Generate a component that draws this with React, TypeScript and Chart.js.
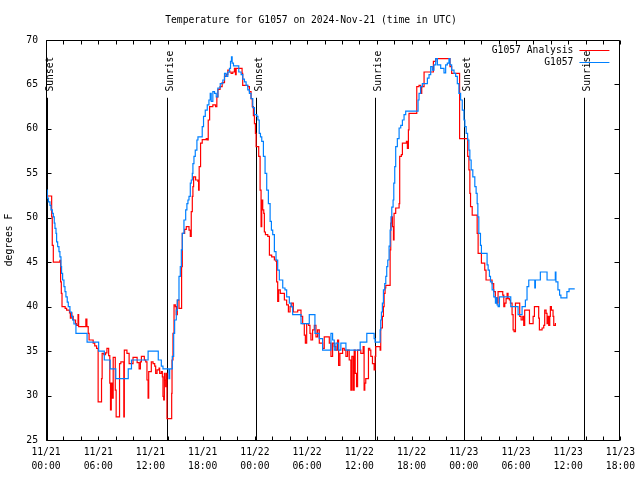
import React, { useEffect, useRef } from 'react';
import { Chart, registerables } from 'chart.js';

Chart.register(...registerables);

const FONT_FAMILY = '"DejaVu Sans Mono", "Liberation Mono", monospace';
const FONT_SIZE = 9.7;

const titleText = 'Temperature for G1057 on 2024-Nov-21 (time in UTC)';
const yAxisTitle = 'degrees F';
const seriesNames = ['G1057 Analysis', 'G1057'];
const seriesColors = ['#ff0000', '#0080ff'];

const xTickLabels = [
  ['11/21', '00:00'], ['11/21', '06:00'], ['11/21', '12:00'], ['11/21', '18:00'],
  ['11/22', '00:00'], ['11/22', '06:00'], ['11/22', '12:00'], ['11/22', '18:00'],
  ['11/23', '00:00'], ['11/23', '06:00'], ['11/23', '12:00'], ['11/23', '18:00'],
];
const xMin = 0;
const xMax = 66;
const yMin = 25;
const yMax = 70;

const sunEventHours = [0.12, 13.85, 24.1, 37.83, 48.08, 61.81];
const sunEventLabels = ['Sunset', 'Sunrise', 'Sunset', 'Sunrise', 'Sunset', 'Sunrise'];

// hours since 11/21 00:00 UTC, degrees F
const analysisPoints: [number, number][] = [
  [0.15, 52.45], [0.65, 50.1], [0.72, 46.9], [0.84, 45.0], [1.6, 45.2], [1.68, 42.8], [1.76, 41.5],
  [1.84, 40.0], [2.2, 39.8], [2.37, 39.6], [2.7, 39.3], [2.8, 38.7], [2.9, 39.3], [2.97, 38.9],
  [3.13, 38.5], [3.4, 38.1], [3.5, 37.9], [3.68, 39.1], [3.75, 37.75], [4.58, 38.6], [4.7, 37.75],
  [4.85, 37.0], [4.95, 36.25], [5.42, 35.9], [5.6, 35.6], [5.81, 35.3], [5.99, 29.3], [6.38, 31.9],
  [6.45, 34.75], [6.65, 34.6], [6.84, 34.8], [7.0, 35.3], [7.2, 34.5], [7.33, 31.4], [7.41, 28.4],
  [7.5, 31.4], [7.6, 29.7], [7.72, 34.3], [7.96, 30.6], [8.06, 27.6], [8.45, 33.6], [8.6, 33.8],
  [8.94, 27.6], [9.0, 35.1], [9.3, 34.75], [9.55, 33.6], [10.0, 34.3], [10.47, 33.7], [10.7, 33.0],
  [10.85, 33.8], [10.96, 34.4], [11.3, 34.0], [11.46, 33.8], [11.6, 31.75], [11.73, 29.7], [11.8, 32.7],
  [12.1, 33.8], [12.3, 33.6], [12.49, 33.3], [12.6, 32.5], [12.76, 32.9], [12.99, 33.1], [13.06, 32.5],
  [13.25, 32.7], [13.37, 32.1], [13.44, 29.9], [13.52, 29.5], [13.6, 32.5], [13.67, 31.75], [13.75, 31.0],
  [13.83, 32.5], [13.9, 27.4], [14.44, 30.25], [14.48, 34.0], [14.59, 37.0], [14.71, 40.2], [14.86, 40.0],
  [14.97, 39.1], [15.09, 40.75], [15.28, 39.8], [15.58, 44.5], [15.66, 48.25], [15.93, 48.7], [16.12, 49.0],
  [16.43, 48.6], [16.58, 47.9], [16.69, 50.7], [16.81, 52.4], [16.88, 53.5], [16.96, 54.6], [17.19, 54.25],
  [17.46, 54.1], [17.53, 53.1], [17.6, 55.75], [17.76, 58.4], [17.95, 58.8], [18.41, 58.9], [18.52, 58.75],
  [18.64, 61.0], [18.8, 62.5], [19.17, 62.7], [19.48, 62.5], [19.63, 63.6], [19.75, 64.45], [20.0, 64.75],
  [20.24, 65.2], [20.51, 65.9], [20.7, 66.1], [20.89, 66.6], [21.1, 66.4], [21.27, 66.25], [21.46, 66.4],
  [21.65, 66.8], [21.77, 66.1], [21.85, 66.8], [22.53, 66.25], [22.6, 64.9], [23.18, 64.75], [23.37, 64.2],
  [23.56, 63.4], [23.7, 62.5], [23.83, 61.5], [23.95, 60.6], [24.06, 59.5], [24.14, 58.0], [24.44, 56.9],
  [24.6, 53.1], [24.71, 49.0], [24.79, 52.0], [24.9, 50.9], [25.02, 50.5], [25.09, 48.4], [25.21, 48.1],
  [25.48, 47.9], [25.67, 45.8], [25.93, 45.6], [26.24, 45.25], [26.43, 45.1], [26.5, 42.8], [26.62, 40.6],
  [26.73, 41.9], [26.92, 41.5], [27.39, 40.75], [27.65, 40.2], [27.85, 39.4], [28.04, 40.0], [28.23, 40.4],
  [28.42, 39.4], [28.92, 39.6], [29.3, 38.9], [29.49, 38.1], [29.68, 36.8], [29.8, 35.9], [29.95, 38.1],
  [30.18, 37.9], [30.33, 37.0], [30.44, 36.25], [30.63, 37.4], [30.83, 37.9], [31.02, 36.6], [31.21, 37.4],
  [31.4, 35.9], [31.78, 35.3], [31.97, 36.6], [32.55, 35.9], [32.74, 34.4], [32.93, 35.9], [33.12, 35.5],
  [33.31, 35.1], [33.5, 36.25], [33.62, 33.4], [33.77, 34.75], [34.08, 35.3], [34.27, 35.1], [34.46, 34.4],
  [34.65, 35.1], [34.84, 34.0], [35.03, 30.6], [35.14, 34.4], [35.3, 30.6], [35.41, 35.1], [35.53, 32.5],
  [35.68, 31.0], [35.8, 35.1], [36.17, 34.75], [36.44, 35.5], [36.55, 30.6], [36.63, 31.4], [36.74, 31.9],
  [37.05, 35.3], [37.2, 35.1], [37.32, 34.4], [37.51, 33.6], [37.7, 32.9], [37.81, 34.4], [37.89, 35.5],
  [38.39, 35.1], [38.46, 37.6], [38.65, 38.9], [38.77, 40.0], [38.85, 41.5], [38.96, 42.1], [39.04, 42.4],
  [39.54, 46.4], [39.61, 49.4], [39.69, 50.1], [39.8, 49.0], [39.92, 47.5], [39.99, 50.5], [40.18, 51.1],
  [40.57, 51.6], [40.64, 56.9], [40.83, 57.1], [40.95, 58.4], [41.41, 58.6], [41.52, 57.8], [41.64, 59.9],
  [41.71, 61.75], [42.6, 64.75], [42.86, 64.9], [43.05, 64.0], [43.17, 64.75], [43.44, 66.4], [44.51, 67.6],
  [44.78, 67.9], [46.42, 67.0], [46.61, 66.25], [47.52, 58.9], [48.45, 56.9], [48.59, 55.4], [48.7, 52.75],
  [48.78, 51.25], [48.97, 50.3], [49.54, 48.25], [49.65, 46.0], [50.03, 44.9], [50.41, 44.1], [50.56, 43.0],
  [51.25, 42.6], [51.44, 41.7], [51.63, 41.0], [51.82, 40.4], [51.94, 41.7], [52.48, 41.3], [52.6, 40.0],
  [52.71, 40.4], [52.86, 40.9], [52.98, 41.5], [53.09, 40.9], [53.24, 40.75], [53.36, 40.4], [53.55, 39.1],
  [53.67, 37.4], [53.78, 37.2], [53.94, 40.4], [54.43, 38.9], [54.59, 38.5], [54.78, 38.9], [54.89, 37.9],
  [55.0, 39.6], [55.55, 38.1], [55.97, 38.9], [56.12, 40.0], [56.61, 38.7], [56.69, 37.4], [57.0, 37.6],
  [57.19, 37.9], [57.3, 39.6], [57.46, 39.25], [57.57, 38.1], [57.65, 38.9], [57.76, 37.9], [57.88, 38.9],
  [57.95, 40.0], [58.07, 39.6], [58.26, 38.9], [58.34, 37.9], [58.53, 38.1], [58.6, 38.1],
];

const stationPoints: [number, number][] = [
  [0.08, 53.1], [0.15, 52.2], [0.27, 51.8], [0.46, 51.4], [0.57, 50.9], [0.73, 50.5], [0.84, 50.1],
  [0.95, 49.4], [1.03, 48.8], [1.15, 48.25], [1.22, 47.3], [1.34, 46.75], [1.49, 46.2], [1.6, 45.6],
  [1.72, 44.5], [1.79, 43.75], [1.91, 43.0], [2.06, 42.25], [2.18, 41.7], [2.29, 41.1], [2.44, 40.5],
  [2.56, 40.0], [2.75, 39.4], [2.94, 38.9], [3.06, 38.5], [3.21, 38.05], [3.44, 37.0], [4.72, 36.0],
  [6.05, 35.0], [6.7, 34.0], [7.37, 33.0], [8.02, 31.9], [9.45, 33.0], [9.82, 34.0], [11.73, 35.0],
  [12.9, 34.0], [13.25, 33.3], [13.44, 33.0], [14.13, 31.9], [14.21, 33.0], [14.51, 34.4], [14.67, 37.0],
  [14.78, 38.5], [14.97, 39.6], [15.09, 40.75], [15.28, 43.4], [15.43, 44.5], [15.55, 46.4], [15.66, 48.25],
  [15.85, 49.75], [16.05, 50.9], [16.19, 51.6], [16.31, 52.0], [16.43, 52.4], [16.58, 53.9], [16.69, 54.25],
  [16.81, 55.0], [16.88, 56.1], [17.0, 56.9], [17.15, 57.6], [17.34, 58.75], [17.46, 59.1], [17.95, 60.25],
  [18.1, 61.4], [18.3, 62.1], [18.53, 62.7], [18.72, 63.25], [18.87, 64.0], [18.98, 63.1], [19.17, 64.2],
  [19.36, 64.0], [19.56, 63.6], [19.75, 64.6], [20.02, 65.1], [20.32, 65.5], [20.51, 66.25], [20.7, 65.9],
  [20.89, 66.4], [21.08, 66.8], [21.2, 67.6], [21.31, 68.1], [21.39, 67.4], [21.54, 67.1], [22.15, 66.4],
  [22.42, 66.1], [22.61, 65.6], [22.8, 65.3], [22.99, 64.9], [23.18, 64.4], [23.37, 64.0], [23.56, 63.4],
  [23.76, 62.4], [23.95, 61.6], [24.22, 61.4], [24.35, 61.0], [24.5, 59.5], [24.64, 59.1], [24.79, 58.6],
  [24.98, 56.9], [25.17, 55.0], [25.36, 53.1], [25.55, 51.6], [25.75, 49.6], [25.9, 48.6], [26.05, 48.1],
  [26.24, 46.2], [26.43, 45.25], [26.62, 44.1], [26.81, 43.0], [27.2, 42.1], [27.46, 41.9], [27.65, 41.1],
  [27.96, 40.4], [28.15, 40.0], [28.34, 39.1], [29.3, 38.1], [30.25, 39.1], [30.9, 37.0], [31.4, 36.4],
  [31.78, 35.1], [32.74, 37.0], [32.93, 36.25], [33.12, 35.1], [33.31, 35.9], [33.62, 35.1], [33.88, 35.9],
  [34.46, 35.1], [36.1, 36.0], [36.86, 37.0], [37.7, 36.4], [37.81, 36.0], [38.39, 37.4], [38.46, 38.5],
  [38.54, 39.4], [38.65, 40.4], [38.77, 41.9], [38.92, 42.6], [39.04, 43.4], [39.15, 44.5], [39.27, 45.25],
  [39.42, 46.8], [39.54, 48.6], [39.65, 50.1], [39.73, 51.2], [39.88, 52.0], [39.96, 53.9], [40.07, 55.75],
  [40.18, 58.0], [40.37, 58.9], [40.57, 60.1], [40.76, 60.4], [40.95, 61.0], [41.14, 61.6], [41.33, 62.0],
  [42.75, 63.25], [42.86, 64.0], [43.05, 64.75], [43.24, 65.1], [43.82, 65.7], [44.01, 66.1], [44.2, 67.0],
  [44.39, 66.6], [44.58, 67.2], [44.78, 67.9], [44.97, 67.2], [45.35, 66.8], [45.73, 66.3], [45.92, 67.2],
  [46.11, 67.4], [46.3, 67.9], [46.42, 67.2], [46.61, 66.6], [46.88, 66.25], [47.07, 65.9], [47.26, 65.1],
  [47.44, 64.0], [47.64, 63.25], [47.83, 62.1], [48.02, 61.0], [48.13, 60.25], [48.28, 59.5], [48.44, 58.75],
  [48.59, 57.6], [48.7, 56.5], [48.85, 55.4], [49.04, 54.6], [49.27, 53.5], [49.42, 52.75], [49.54, 51.6],
  [49.62, 50.1], [49.73, 48.25], [49.92, 46.9], [50.03, 46.0], [50.68, 44.7], [50.8, 44.1], [50.95, 43.4],
  [51.07, 42.8], [51.26, 41.9], [51.45, 41.1], [51.64, 40.4], [51.76, 41.0], [51.83, 40.2], [51.95, 40.0],
  [52.1, 41.1], [53.4, 40.0], [54.24, 39.1], [54.7, 40.0], [55.08, 40.75], [55.27, 42.25], [55.47, 43.0],
  [56.16, 42.1], [56.23, 43.0], [56.8, 43.9], [57.57, 43.0], [58.52, 43.9], [58.59, 42.8], [58.82, 41.9],
  [59.01, 41.3], [59.16, 41.0], [59.85, 41.7], [60.1, 42.0], [60.75, 42.0],
];

const font = (size = FONT_SIZE) => `${size}px ${FONT_FAMILY}`;

const overlayPlugin = {
  id: 'gnuOverlay',
  beforeDatasetsDraw(chart: any) {
    const { ctx, chartArea, scales } = chart;
    const xs = scales.x;
    const ys = scales.y;
    ctx.save();
    ctx.strokeStyle = '#000';
    ctx.fillStyle = '#000';
    ctx.lineWidth = 1;
    ctx.font = font();
    const lineTop = ys.getPixelForValue(63.5);
    const labelBase = ys.getPixelForValue(64.2);
    sunEventHours.forEach((h, i) => {
      const px = Math.round(xs.getPixelForValue(h)) + 0.5;
      ctx.beginPath();
      ctx.moveTo(px, chartArea.bottom);
      ctx.lineTo(px, lineTop);
      ctx.stroke();
      ctx.save();
      ctx.translate(px + 2.5, labelBase);
      ctx.rotate(-Math.PI / 2);
      ctx.textAlign = 'left';
      ctx.textBaseline = 'middle';
      ctx.fillText(sunEventLabels[i], 0, 0);
      ctx.restore();
    });
    ctx.restore();
  },
  afterDatasetsDraw(chart: any) {
    const { ctx, chartArea, scales } = chart;
    const xs = scales.x;
    const ys = scales.y;
    const L = Math.round(chartArea.left) + 0.5;
    const R = Math.round(chartArea.right) - 0.5;
    const T = Math.round(chartArea.top) + 0.5;
    const B = Math.round(chartArea.bottom) + 0.5;
    ctx.save();
    ctx.strokeStyle = '#000';
    ctx.lineWidth = 1;
    ctx.beginPath();
    ctx.rect(L, T, R - L, B - T);
    ctx.stroke();
    // x ticks every 2 hours, inward, bottom and top
    ctx.beginPath();
    for (let v = xMin; v <= xMax; v += 2) {
      const px = Math.round(xs.getPixelForValue(v)) + 0.5;
      ctx.moveTo(px, B);
      ctx.lineTo(px, B - 4);
      ctx.moveTo(px, T);
      ctx.lineTo(px, T + 4);
    }
    for (let v = yMin; v <= yMax; v += 5) {
      const py = Math.round(ys.getPixelForValue(v)) + 0.5;
      ctx.moveTo(L, py);
      ctx.lineTo(L + 5, py);
      ctx.moveTo(R, py);
      ctx.lineTo(R - 5, py);
    }
    ctx.stroke();
    // legend
    ctx.font = font();
    ctx.fillStyle = '#000';
    ctx.textAlign = 'right';
    ctx.textBaseline = 'middle';
    seriesNames.forEach((name, i) => {
      const y = Math.round(chartArea.top + 10 + i * 12) + 0.5;
      ctx.fillText(name, chartArea.right - 47, y);
      ctx.strokeStyle = seriesColors[i];
      ctx.lineWidth = 1;
      ctx.beginPath();
      ctx.moveTo(chartArea.right - 41, y);
      ctx.lineTo(chartArea.right - 11, y);
      ctx.stroke();
    });
    ctx.restore();
  },
};

export default function App() {
  const canvasRef = useRef<HTMLCanvasElement | null>(null);

  useEffect(() => {
    const canvas = canvasRef.current;
    if (!canvas) return;
    const chart = new Chart(canvas, {
      type: 'line',
      data: {
        datasets: [
          {
            label: seriesNames[0],
            data: analysisPoints.map(([x, y]) => ({ x, y })),
            borderColor: seriesColors[0],
            backgroundColor: seriesColors[0],
            borderWidth: 1.2,
            pointRadius: 0,
            stepped: true,
            fill: false,
            order: 1,
          },
          {
            label: seriesNames[1],
            data: stationPoints.map(([x, y]) => ({ x, y })),
            borderColor: seriesColors[1],
            backgroundColor: seriesColors[1],
            borderWidth: 1.2,
            pointRadius: 0,
            stepped: true,
            fill: false,
            order: 0,
          },
        ],
      },
      options: {
        animation: false,
        responsive: false,
        maintainAspectRatio: false,
        layout: { padding: { left: 0, right: 18, top: 0, bottom: 0 } },
        plugins: {
          legend: { display: false },
          tooltip: { enabled: false },
          title: {
            display: true,
            text: titleText,
            color: '#000',
            font: { family: FONT_FAMILY, size: FONT_SIZE, weight: 'normal', lineHeight: 1.2 },
            padding: { top: 15, bottom: 13.36 },
          },
        },
        scales: {
          x: {
            type: 'linear',
            min: xMin,
            max: xMax,
            grid: { display: false, drawTicks: false },
            border: { display: false },
            ticks: {
              stepSize: 6,
              autoSkip: false,
              maxRotation: 0,
              minRotation: 0,
              padding: 5,
              color: '#000',
              font: { family: FONT_FAMILY, size: FONT_SIZE, lineHeight: 1.5 },
              callback: (v: any) => xTickLabels[Math.round(Number(v) / 6)] ?? '',
            },
            afterFit: (scale: any) => {
              scale.height = 40;
            },
          },
          y: {
            type: 'linear',
            min: yMin,
            max: yMax,
            grid: { display: false, drawTicks: false },
            border: { display: false },
            ticks: {
              stepSize: 5,
              padding: 8,
              color: '#000',
              font: { family: FONT_FAMILY, size: FONT_SIZE },
            },
            title: {
              display: true,
              text: yAxisTitle,
              color: '#000',
              font: { family: FONT_FAMILY, size: FONT_SIZE, lineHeight: 1.2 },
              padding: { top: 4, bottom: 0 },
            },
            afterFit: (scale: any) => {
              scale.width = 46;
            },
          },
        },
      },
      plugins: [overlayPlugin],
    } as any);
    return () => chart.destroy();
  }, []);

  return (
    <div style={{ position: 'absolute', left: 0, top: 0, width: 640, height: 480, background: '#fff' }}>
      <canvas ref={canvasRef} width={640} height={480} style={{ display: 'block' }} />
    </div>
  );
}
